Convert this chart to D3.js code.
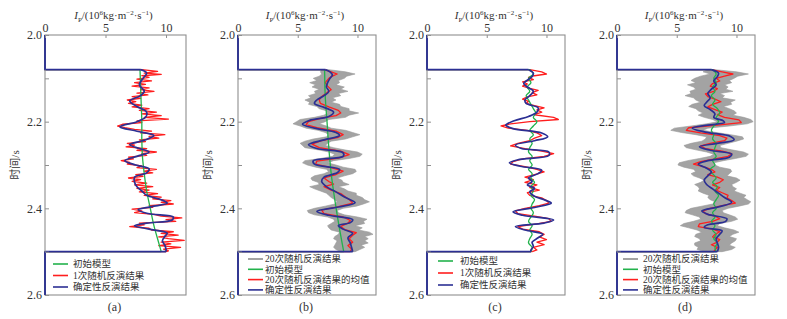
<!DOCTYPE html>
<html lang="zh">
<head>
<meta charset="UTF-8">
<title>波阻抗反演结果</title>
<script src="https://cdn.jsdelivr.net/npm/d3@7"></script>
<style>
  body { margin: 0; background: #fff; }
  text { font-family: "Liberation Serif", "Noto Sans CJK SC", serif; fill: #333; }
  .latin { font-family: "Liberation Serif", serif; }
</style>
</head>
<body>
<svg id="chart" width="787" height="319"></svg>
<script>
// ---- data: [time (s), Ip (10^6 kg·m^-2·s^-1)] ----
const timeTicks = [2.0, 2.1, 2.2, 2.3, 2.4, 2.5, 2.6]
const ipTicks = [0, 5, 10]

const greenA = [[2.08,7.85],[2.12,7.9],[2.16,7.95],[2.20,8.0],[2.24,8.0],[2.28,8.05],[2.32,8.2],[2.36,8.4],[2.40,8.7],[2.44,9.0],[2.48,9.4],[2.50,9.6]]
const blueA = [[2.080,7.9],[2.088,8.4],[2.100,8.1],[2.115,7.8],[2.130,8.2],[2.140,7.9],[2.152,7.0],[2.165,7.6],[2.178,8.4],[2.190,8.3],[2.200,7.6],[2.212,6.2],[2.222,7.6],[2.232,9.0],[2.243,8.2],[2.253,7.0],[2.262,7.8],[2.270,8.6],[2.280,7.6],[2.290,6.6],[2.300,7.5],[2.309,8.6],[2.318,8.4],[2.328,7.4],[2.340,7.4],[2.350,7.6],[2.360,8.0],[2.370,8.4],[2.380,9.6],[2.388,10.1],[2.396,8.8],[2.403,7.7],[2.412,8.5],[2.420,10.6],[2.427,10.5],[2.434,8.4],[2.440,7.4],[2.448,8.6],[2.457,10.1],[2.465,9.9],[2.475,9.7],[2.485,9.9],[2.495,10.0],[2.500,10.0]]
const redA = [[2.080,8.0],[2.084,9.3],[2.088,8.2],[2.091,9.6],[2.094,8.0],[2.098,8.6],[2.102,7.6],[2.106,8.8],[2.110,7.4],[2.114,8.3],[2.118,7.2],[2.122,8.6],[2.126,7.9],[2.130,9.0],[2.134,7.6],[2.138,8.5],[2.142,7.2],[2.146,7.9],[2.150,6.8],[2.154,7.5],[2.158,6.9],[2.162,8.0],[2.166,7.2],[2.170,8.6],[2.174,7.8],[2.178,9.2],[2.182,8.0],[2.186,9.6],[2.190,8.2],[2.194,10.2],[2.198,7.6],[2.202,8.0],[2.206,6.4],[2.210,6.0],[2.214,6.6],[2.218,7.4],[2.222,8.8],[2.226,7.9],[2.230,9.9],[2.234,8.6],[2.238,9.4],[2.242,7.8],[2.246,8.3],[2.250,6.8],[2.254,7.4],[2.258,6.7],[2.262,8.4],[2.266,7.6],[2.270,9.2],[2.274,8.0],[2.278,8.4],[2.282,6.9],[2.286,7.3],[2.290,6.3],[2.294,7.0],[2.298,6.8],[2.302,8.0],[2.306,7.6],[2.310,9.2],[2.314,8.2],[2.318,8.9],[2.322,7.5],[2.326,8.1],[2.330,6.9],[2.334,7.9],[2.338,7.2],[2.342,8.4],[2.346,7.4],[2.350,8.9],[2.354,7.6],[2.358,8.6],[2.362,7.8],[2.366,9.3],[2.370,8.2],[2.374,9.6],[2.378,8.9],[2.382,10.4],[2.386,9.6],[2.390,10.6],[2.394,8.6],[2.398,8.9],[2.402,7.2],[2.406,8.0],[2.410,7.4],[2.414,9.0],[2.418,9.6],[2.422,11.3],[2.426,10.0],[2.430,10.8],[2.434,7.8],[2.438,8.2],[2.442,7.0],[2.446,8.6],[2.450,8.8],[2.454,10.6],[2.458,9.6],[2.462,11.0],[2.466,9.4],[2.470,10.2],[2.474,11.5],[2.478,9.6],[2.482,10.4],[2.486,9.4],[2.490,11.2],[2.494,9.8],[2.498,10.2],[2.500,10.0]]

const greenB = [[2.08,7.25],[2.14,7.3],[2.20,7.45],[2.26,7.6],[2.32,7.8],[2.38,8.1],[2.44,8.45],[2.50,8.85]]
const blueB = [[2.080,7.3],[2.085,7.7],[2.092,7.9],[2.100,7.7],[2.110,7.5],[2.120,7.4],[2.130,7.6],[2.140,7.2],[2.150,6.6],[2.158,6.4],[2.167,7.2],[2.178,8.0],[2.188,7.6],[2.197,6.0],[2.206,5.4],[2.215,6.4],[2.225,8.2],[2.232,8.5],[2.242,7.2],[2.253,5.9],[2.262,6.6],[2.272,8.8],[2.280,8.8],[2.290,6.3],[2.298,6.4],[2.310,8.5],[2.318,8.3],[2.328,7.2],[2.338,7.0],[2.350,7.4],[2.362,8.2],[2.375,9.0],[2.387,9.8],[2.397,8.4],[2.407,6.6],[2.416,7.6],[2.426,9.6],[2.433,9.4],[2.440,8.4],[2.448,8.8],[2.458,9.6],[2.468,9.2],[2.480,9.4],[2.490,9.5],[2.500,9.6]]
const redB = [[2.080,7.2],[2.085,7.8],[2.090,8.3],[2.095,7.9],[2.100,7.6],[2.110,7.3],[2.118,7.5],[2.126,7.8],[2.134,7.4],[2.142,7.0],[2.150,6.8],[2.158,6.9],[2.166,7.6],[2.174,8.4],[2.180,8.6],[2.186,8.2],[2.192,7.0],[2.200,5.9],[2.207,5.7],[2.214,6.6],[2.222,8.2],[2.230,8.8],[2.236,8.4],[2.244,7.0],[2.252,6.2],[2.260,6.8],[2.268,8.6],[2.276,9.3],[2.284,8.4],[2.291,6.6],[2.298,6.5],[2.306,7.8],[2.314,8.8],[2.322,8.2],[2.330,7.2],[2.338,7.6],[2.344,8.0],[2.350,7.2],[2.358,7.8],[2.366,8.6],[2.374,9.0],[2.382,9.4],[2.388,9.6],[2.396,8.4],[2.404,7.0],[2.412,7.2],[2.420,8.8],[2.428,9.4],[2.434,9.2],[2.442,8.6],[2.450,9.0],[2.456,9.9],[2.462,9.6],[2.470,9.3],[2.478,9.6],[2.486,9.2],[2.494,9.5],[2.500,9.4]]

const greenC = [[2.08,8.6],[2.09,8.9],[2.10,8.5],[2.11,8.7],[2.12,8.4],[2.13,8.6],[2.14,8.3],[2.15,8.5],[2.16,8.7],[2.17,8.9],[2.18,9.1],[2.19,8.9],[2.20,9.2],[2.21,8.9],[2.22,8.6],[2.23,8.9],[2.24,8.6],[2.25,8.8],[2.26,8.6],[2.27,8.5],[2.28,8.8],[2.29,8.6],[2.30,8.8],[2.31,8.5],[2.32,8.8],[2.33,8.7],[2.34,9.0],[2.35,8.7],[2.36,8.9],[2.37,8.7],[2.38,9.0],[2.39,8.8],[2.40,8.7],[2.41,8.9],[2.42,8.7],[2.43,8.5],[2.44,8.8],[2.45,8.6],[2.46,8.8],[2.47,8.6],[2.48,8.5],[2.49,8.8],[2.50,8.7]]
const blueC = [[2.080,8.5],[2.088,8.9],[2.096,8.8],[2.104,8.4],[2.112,8.1],[2.120,8.4],[2.130,8.9],[2.140,8.6],[2.150,8.2],[2.158,8.3],[2.168,9.3],[2.178,9.2],[2.188,8.5],[2.198,7.3],[2.208,6.6],[2.216,7.2],[2.226,9.6],[2.235,10.1],[2.244,9.0],[2.254,7.4],[2.262,7.9],[2.270,10.2],[2.278,10.2],[2.288,7.6],[2.295,6.9],[2.303,7.8],[2.312,9.6],[2.320,9.3],[2.330,8.5],[2.338,8.8],[2.346,8.4],[2.354,9.0],[2.362,8.6],[2.372,9.0],[2.380,9.8],[2.388,10.4],[2.398,9.0],[2.408,7.2],[2.416,8.0],[2.427,10.6],[2.434,9.8],[2.442,7.4],[2.450,8.2],[2.460,9.7],[2.468,9.3],[2.478,8.8],[2.488,8.9],[2.496,8.7],[2.500,8.7]]
const redC = [[2.080,8.6],[2.085,9.6],[2.090,10.0],[2.094,9.0],[2.098,8.5],[2.103,8.9],[2.108,8.0],[2.113,8.4],[2.118,8.0],[2.123,8.6],[2.128,9.3],[2.133,8.8],[2.138,9.2],[2.143,8.4],[2.148,8.0],[2.153,8.5],[2.158,8.3],[2.163,9.0],[2.168,9.8],[2.173,9.2],[2.178,9.6],[2.184,9.0],[2.190,10.6],[2.195,11.0],[2.200,8.6],[2.205,7.0],[2.210,6.2],[2.215,6.8],[2.220,8.4],[2.226,9.2],[2.232,9.6],[2.238,9.0],[2.244,8.6],[2.250,7.6],[2.256,7.0],[2.262,8.2],[2.268,9.6],[2.274,10.6],[2.280,9.8],[2.286,8.0],[2.292,7.2],[2.298,7.0],[2.304,8.2],[2.310,9.2],[2.316,9.8],[2.322,9.0],[2.328,8.2],[2.334,8.9],[2.340,8.2],[2.346,9.2],[2.352,8.6],[2.358,9.4],[2.364,8.4],[2.370,8.6],[2.376,9.6],[2.382,10.0],[2.388,10.2],[2.394,9.4],[2.400,8.2],[2.406,7.4],[2.412,7.6],[2.418,9.0],[2.424,10.2],[2.430,10.4],[2.436,9.2],[2.442,7.6],[2.448,8.0],[2.454,9.4],[2.460,9.8],[2.466,9.4],[2.472,10.0],[2.478,9.2],[2.484,9.8],[2.490,8.9],[2.496,9.2],[2.500,8.8]]

const greenD = [[2.08,8.0],[2.09,8.3],[2.10,8.1],[2.11,8.3],[2.12,8.0],[2.13,8.2],[2.14,7.9],[2.15,8.2],[2.16,8.0],[2.17,8.4],[2.18,8.6],[2.19,8.3],[2.20,8.5],[2.21,8.1],[2.22,7.9],[2.23,8.1],[2.24,8.0],[2.25,8.3],[2.26,8.2],[2.27,8.1],[2.28,8.3],[2.29,8.0],[2.30,8.2],[2.31,7.8],[2.32,8.0],[2.33,8.3],[2.34,8.0],[2.35,8.4],[2.36,8.2],[2.37,8.5],[2.38,8.3],[2.39,8.1],[2.40,8.3],[2.41,8.0],[2.42,8.2],[2.43,7.9],[2.44,8.2],[2.45,8.0],[2.46,8.3],[2.47,8.1],[2.48,8.4],[2.49,8.2],[2.50,8.3]]
const blueD = [[2.080,7.9],[2.088,8.5],[2.096,8.4],[2.106,8.1],[2.115,8.3],[2.125,7.9],[2.135,7.6],[2.145,7.8],[2.155,7.5],[2.163,7.3],[2.172,7.8],[2.182,8.2],[2.190,8.1],[2.198,8.9],[2.202,9.0],[2.208,7.6],[2.215,6.3],[2.224,7.4],[2.234,9.5],[2.242,9.8],[2.250,8.4],[2.258,6.9],[2.266,7.8],[2.275,9.6],[2.282,9.4],[2.290,7.6],[2.298,6.8],[2.306,7.4],[2.316,7.9],[2.325,7.6],[2.335,7.3],[2.345,7.5],[2.355,8.0],[2.365,8.5],[2.375,9.0],[2.386,9.6],[2.396,8.6],[2.406,7.1],[2.414,7.6],[2.424,9.2],[2.430,9.1],[2.438,7.6],[2.444,7.3],[2.452,8.8],[2.460,8.6],[2.470,8.3],[2.480,8.4],[2.490,8.5],[2.500,8.4]]
const redD = [[2.080,7.9],[2.085,8.8],[2.090,9.7],[2.095,9.0],[2.100,8.3],[2.106,8.6],[2.112,8.0],[2.118,7.8],[2.124,8.4],[2.130,8.1],[2.136,7.4],[2.142,7.6],[2.148,8.2],[2.154,8.7],[2.160,8.0],[2.166,7.6],[2.172,8.2],[2.178,8.8],[2.184,8.4],[2.190,9.0],[2.196,10.2],[2.202,10.4],[2.208,8.4],[2.214,6.0],[2.220,5.8],[2.226,7.0],[2.232,8.6],[2.238,9.2],[2.244,9.0],[2.250,7.8],[2.256,7.0],[2.262,7.4],[2.268,8.8],[2.274,9.6],[2.280,9.3],[2.286,8.2],[2.292,7.0],[2.298,6.4],[2.304,7.2],[2.310,7.9],[2.316,8.2],[2.322,7.6],[2.328,8.4],[2.334,8.9],[2.340,8.6],[2.346,8.0],[2.352,8.6],[2.358,8.3],[2.364,8.8],[2.370,9.3],[2.376,9.2],[2.382,9.6],[2.388,9.9],[2.394,8.8],[2.400,7.8],[2.406,7.2],[2.412,7.4],[2.418,8.2],[2.424,8.6],[2.430,8.0],[2.436,6.9],[2.442,6.8],[2.448,8.0],[2.454,8.6],[2.460,8.2],[2.466,8.0],[2.472,8.6],[2.478,8.4],[2.484,7.9],[2.490,8.4],[2.496,8.2],[2.500,8.1]]

// envelope of the 20 random inversions, sampled on grayT
const grayT = [2.080,2.085,2.090,2.095,2.100,2.105,2.110,2.115,2.120,2.125,
  2.130,2.135,2.140,2.145,2.150,2.155,2.160,2.165,2.170,2.175,
  2.180,2.185,2.190,2.195,2.200,2.205,2.210,2.215,2.220,2.225,
  2.230,2.235,2.240,2.245,2.250,2.255,2.260,2.265,2.270,2.275,
  2.280,2.285,2.290,2.295,2.300,2.305,2.310,2.315,2.320,2.325,
  2.330,2.335,2.340,2.345,2.350,2.355,2.360,2.365,2.370,2.375,
  2.380,2.385,2.390,2.395,2.400,2.405,2.410,2.415,2.420,2.425,
  2.430,2.435,2.440,2.445,2.450,2.455,2.460,2.465,2.470,2.475,
  2.480,2.485,2.490,2.495,2.500]
const grayB_lo = [7.0,6.9,7.0,6.8,6.3,6.6,6.0,6.5,6.2,6.8,
  6.4,6.5,5.9,6.1,5.6,6.0,5.9,6.6,6.8,7.4,
  7.5,7.2,6.4,5.2,4.9,4.6,5.2,5.7,6.7,7.3,
  7.6,7.4,6.3,5.6,5.2,5.4,5.6,6.7,7.6,8.1,
  7.9,6.9,5.6,5.4,5.8,6.5,7.4,7.6,7.2,6.4,
  6.1,6.2,6.7,6.8,6.0,6.4,6.9,7.4,7.6,7.8,
  8.1,8.3,8.1,7.3,6.4,5.8,5.9,6.4,7.5,8.0,
  8.1,7.8,7.5,7.6,7.8,8.5,8.4,8.1,8.0,8.3,
  8.2,8.1,8.0,8.2,8.6]
const grayB_hi = [7.6,9.0,9.8,9.1,8.9,8.4,8.5,8.2,8.9,8.6,
  9.2,8.4,8.6,7.9,8.2,7.8,8.5,8.6,9.3,9.3,
  10.1,9.3,9.0,7.6,7.3,6.8,7.4,7.8,9.0,9.6,
  10.2,9.6,9.0,7.8,7.5,7.3,8.0,8.9,10.0,10.4,
  10.2,9.3,8.0,7.5,8.2,8.8,9.8,9.9,9.6,8.9,
  8.3,8.7,8.8,9.3,8.4,8.9,9.2,9.9,9.9,10.4,
  10.6,11.0,10.5,9.9,8.8,8.3,8.4,8.9,10.0,10.8,
  10.5,10.6,9.8,10.4,10.1,11.0,11.3,10.6,10.9,10.6,
  10.9,10.3,10.6,10.2,9.8]
const grayD_lo = [7.6,7.2,7.8,7.0,6.5,6.2,6.6,5.9,6.4,6.6,
  6.1,6.2,5.7,6.4,6.6,7.0,6.3,6.0,6.6,6.8,
  7.2,6.8,7.3,8.0,8.4,7.5,6.2,4.8,4.5,5.4,
  6.6,7.5,7.4,7.1,6.2,5.6,5.8,6.6,7.5,8.1,
  7.8,6.9,5.9,5.2,5.1,5.6,6.4,6.6,6.2,6.4,
  6.9,7.3,7.0,6.5,6.8,6.9,6.8,7.2,7.7,7.6,
  7.8,8.2,8.0,7.1,6.2,5.8,5.7,6.3,6.9,7.0,
  6.4,5.6,5.3,6.0,6.7,7.1,6.6,6.5,6.9,7.0,
  6.5,6.5,6.8,6.7,7.4]
const grayD_hi = [8.2,10.0,11.0,10.1,9.8,9.4,9.6,9.0,9.3,9.1,
  9.7,8.6,9.0,8.8,9.9,9.5,9.6,8.9,9.4,9.8,
  10.0,9.7,10.6,11.2,11.4,10.9,9.4,7.6,7.2,8.3,
  9.5,10.5,10.6,10.0,9.3,8.6,8.7,9.6,10.6,11.0,
  10.8,9.9,8.9,8.1,8.2,8.6,9.5,9.6,9.4,9.2,
  10.0,10.3,10.0,9.6,9.7,10.0,9.8,10.3,10.8,10.6,
  10.9,11.2,11.0,10.2,9.3,8.8,8.9,9.4,9.9,10.1,
  9.6,8.6,8.4,9.0,9.8,10.2,9.7,9.4,10.0,9.9,
  9.6,9.4,9.9,9.6,8.8]

const legend3 = ['初始模型', '1次随机反演结果', '确定性反演结果']
const legend4 = ['20次随机反演结果', '初始模型', '20次随机反演结果的均值', '确定性反演结果']

// ---- styles ----
const COLORS = { gray: '#a3a3a3', green: '#22b24c', red: '#ff1e1e', blue: '#2b2f93' }

const panels = [
  { tag: '(a)', left: 45, width: 141, xMax: 11.65, green: greenA, red: redA, blue: blueA,
    keys: ['green', 'red', 'blue'], names: legend3, lx: 8, tx: 28, ly: 264, ldy: 11.5 },
  { tag: '(b)', left: 238, width: 138, xMax: 11.55, green: greenB, red: redB, blue: blueB, lo: grayB_lo, hi: grayB_hi,
    keys: ['gray', 'green', 'red', 'blue'], names: legend4, lx: 10, tx: 27, ly: 259, ldy: 10.3 },
  { tag: '(c)', left: 427, width: 138, xMax: 11.55, green: greenC, red: redC, blue: blueC,
    keys: ['green', 'red', 'blue'], names: legend3, lx: 11, tx: 33, ly: 261, ldy: 12 },
  { tag: '(d)', left: 617, width: 138, xMax: 11.55, green: greenD, red: redD, blue: blueD, lo: grayD_lo, hi: grayD_hi,
    keys: ['gray', 'green', 'red', 'blue'], names: legend4, lx: 6, tx: 26, ly: 259, ldy: 10.3 }
]

const TOP = 35, BOTTOM = 295
const svg = d3.select('#chart')
const y = d3.scaleLinear().domain([2.0, 2.6]).range([TOP, BOTTOM])

panels.forEach(p => {
  const x = d3.scaleLinear().domain([0, p.xMax]).range([p.left, p.left + p.width])
  const g = svg.append('g')

  // envelope of random inversions
  if (p.lo) {
    const band = grayT.map((t, i) => [t, p.lo[i], p.hi[i]])
    g.append('path')
      .attr('d', d3.area().y(d => y(d[0])).x0(d => x(d[1])).x1(d => x(d[2]))(band))
      .attr('fill', COLORS.gray)
      .attr('stroke', '#999')
      .attr('stroke-width', 0.6)
  }

  const drawLine = (pts, color, w, curve) => {
    const first = pts[0], last = pts[pts.length - 1]
    const lin = d3.line().x(d => x(d[1])).y(d => y(d[0]))
    const style = sel => sel.attr('fill', 'none').attr('stroke', color)
      .attr('stroke-width', w).attr('stroke-linejoin', 'round')
    g.append('path').attr('d', lin([[2.0, 0], [first[0], 0], first])).call(style)
    g.append('path').attr('d', d3.line().x(d => x(d[1])).y(d => y(d[0])).curve(curve)(pts)).call(style)
    g.append('path').attr('d', lin([last, [last[0], 0], [2.6, 0]])).call(style)
  }

  drawLine(p.red, COLORS.red, 1.3, d3.curveLinear)
  drawLine(p.green, COLORS.green, 1.3, d3.curveCatmullRom)
  drawLine(p.blue, COLORS.blue, 1.7, d3.curveCatmullRom)

  // frame
  g.append('rect')
    .attr('x', p.left).attr('y', TOP)
    .attr('width', p.width).attr('height', BOTTOM - TOP)
    .attr('fill', 'none').attr('stroke', '#8f8f8f').attr('stroke-width', 1.1)
  // zero segments sit on top of the frame
  ;[[2.0, p.blue[0][0]], [p.blue[p.blue.length - 1][0], 2.6]].forEach(([a, b]) => {
    g.append('line').attr('x1', x(0)).attr('x2', x(0)).attr('y1', y(a)).attr('y2', y(b))
      .attr('stroke', COLORS.blue).attr('stroke-width', 1.7)
  })

  // axes
  const yAxis = d3.axisLeft(y).tickValues(timeTicks).tickSize(-4).tickPadding(3)
    .tickFormat(d => (Math.round(d * 10) % 2 === 0 ? d3.format('.1f')(d) : ''))
  g.append('g').attr('transform', `translate(${p.left},0)`).call(yAxis)
    .call(a => a.select('.domain').remove())
    .call(a => a.selectAll('line').attr('stroke', '#8f8f8f'))
    .call(a => a.selectAll('text').attr('class', 'latin').attr('font-size', 12).attr('fill', '#333'))

  const xAxis = d3.axisTop(x).tickValues(ipTicks).tickSize(-3).tickPadding(3)
  g.append('g').attr('transform', `translate(0,${TOP})`).call(xAxis)
    .call(a => a.select('.domain').remove())
    .call(a => a.selectAll('line').attr('stroke', '#8f8f8f'))
    .call(a => a.selectAll('text').attr('class', 'latin').attr('font-size', 12).attr('fill', '#333'))

  // x label
  const cx = p.left + p.width / 2 - 2
  const title = g.append('text').attr('class', 'latin').attr('x', cx).attr('y', 19)
    .attr('text-anchor', 'middle').attr('font-size', 11)
  title.append('tspan').attr('font-style', 'italic').text('I')
  title.append('tspan').attr('font-size', 7).attr('dy', 2.5).text('P')
  title.append('tspan').attr('dy', -2.5).text('/(10')
  title.append('tspan').attr('font-size', 7).attr('dy', -4).text('6')
  title.append('tspan').attr('dy', 4).text('kg\u00b7m')
  title.append('tspan').attr('font-size', 7).attr('dy', -4).text('\u22122')
  title.append('tspan').attr('dy', 4).text('\u00b7s')
  title.append('tspan').attr('font-size', 7).attr('dy', -4).text('\u22121')
  title.append('tspan').attr('dy', 4).text(')')

  // y label
  g.append('text')
    .attr('transform', `translate(${p.left - 30},${(TOP + BOTTOM) / 2}) rotate(-90)`)
    .attr('text-anchor', 'middle').attr('dy', '0.35em')
    .attr('font-size', 11).attr('fill', '#555')
    .text('时间/s')

  // panel tag
  g.append('text').attr('class', 'latin').attr('x', cx + 1).attr('y', 311)
    .attr('text-anchor', 'middle').attr('font-size', 12).text(p.tag)

  // legend
  p.keys.forEach((k, i) => {
    const ly = p.ly + i * p.ldy
    g.append('line')
      .attr('x1', p.left + p.lx).attr('x2', p.left + p.lx + 15)
      .attr('y1', ly).attr('y2', ly)
      .attr('stroke', COLORS[k]).attr('stroke-width', k === 'gray' ? 2 : 1.6)
    g.append('text').attr('x', p.left + p.tx).attr('y', ly).attr('dy', '0.35em')
      .attr('font-size', 9.5).attr('fill', '#555').text(p.names[i])
  })
})
</script>
</body>
</html>
